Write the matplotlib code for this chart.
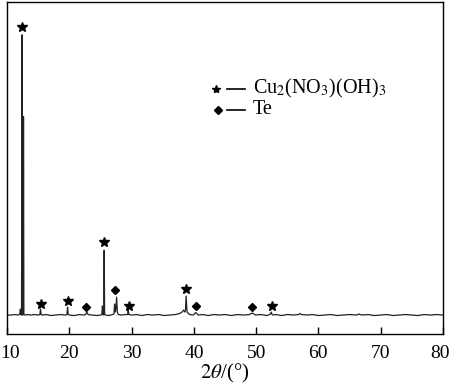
import matplotlib
matplotlib.use("Agg")
import matplotlib.pyplot as plt
from matplotlib.transforms import ScaledTranslation

plt.rcParams['font.family'] = ['Liberation Serif', 'DejaVu Serif']
plt.rcParams['mathtext.fontset'] = 'stix'

# XRD trace (2theta in degrees, intensity in arb. units)
two_theta = [10.0, 10.6, 11.2, 11.7, 12.0, 12.12, 12.2, 12.3, 12.4, 12.45, 12.5,
             12.58, 12.62, 12.68, 12.8, 13.2, 13.8, 14.4, 15.0, 15.25, 15.35, 15.45,
             15.6, 16.3, 17.0, 17.8, 18.6, 19.4, 19.6, 19.7, 19.8, 20.0, 20.8,
             21.6, 22.3, 22.6, 22.8, 23.0, 23.6, 24.4, 25.0, 25.2, 25.3, 25.4,
             25.5, 25.58, 25.66, 25.8, 26.4, 26.9, 27.15, 27.25, 27.35, 27.45,
             27.58, 27.7, 27.85, 28.3, 29.0, 29.35, 29.45, 29.55, 30.0, 30.8,
             31.6, 32.5, 33.4, 34.3, 35.2, 36.1, 37.0, 37.7, 38.1, 38.35, 38.55,
             38.65, 38.75, 38.9, 39.3, 39.9, 40.3, 40.7, 41.4, 42.3, 43.2, 44.1,
             45.0, 46.0, 47.0, 48.0, 48.9, 49.4, 49.9, 50.8, 51.7, 52.2, 52.45,
             52.55, 52.7, 53.2, 54.1, 55.0, 56.0, 56.8, 57.0, 57.3, 58.2, 59.1,
             60.0, 61.0, 62.0, 63.0, 64.0, 65.0, 66.2, 66.5, 67.0, 68.0, 69.0,
             70.0, 71.0, 72.0, 73.0, 74.0, 75.0, 76.0, 77.0, 78.0, 79.0, 80.0]
intensity = [19, 19, 19.5, 19, 19.5, 25, 19.5, 19, 300, 19, 19,
             19.5, 218, 19.5, 19, 19.5, 19, 19.5, 19, 19.5, 25, 19.5,
             19, 19.5, 18.5, 19, 19.5, 19, 19.5, 27, 19.5, 19, 18.5,
             19.5, 19, 19.5, 22, 19.5, 19, 18.5, 19, 19.5, 28, 19.5,
             19, 84, 19.5, 19, 18.5, 19.5, 20, 30, 22, 24,
             37, 22, 19.5, 19, 19.5, 19.5, 24, 19.5, 19, 19.5,
             18.5, 19.5, 19, 19.5, 18.5, 19, 19.5, 20.5, 22, 24, 22,
             24, 38, 22, 19.5, 19, 21.5, 19, 19.5, 18.5, 19.5, 19,
             19.5, 18.5, 19.5, 19, 19.5, 21, 19, 19.5, 18.5, 19.5, 22,
             19.5, 19, 19.5, 18.5, 19.5, 19, 19.5, 20.5, 19.5, 19, 19.5,
             18.5, 19, 19.5, 18.5, 19, 19.5, 19, 20, 19, 19.5, 18.5,
             19, 19.5, 18.5, 19, 19.5, 19, 18.5, 19.5, 19, 19.5, 19]

# phase markers
star_x = [12.4, 15.4, 19.7, 25.6, 29.5, 38.7, 52.5]
star_y = [308, 30, 33, 92, 28, 45, 28]
diamond_x = [22.7, 27.4, 40.3, 49.4]
diamond_y = [27, 44, 28, 27]

xticks = [10, 20, 30, 40, 50, 60, 70, 80]

fig = plt.figure(figsize=(4.5, 3.87), dpi=100)
ax = fig.add_axes([0.016, 0.137, 0.968, 0.858])

ax.plot(two_theta, intensity, color='#222222', lw=0.9)
ax.plot(star_x, star_y, ls='none', marker='*', ms=7, color='black')
ax.plot(diamond_x, diamond_y, ls='none', marker='D', ms=4.5, color='black')

# legend drawn by hand like the original
ax.plot([43.6], [246], marker='*', ms=6, color='black')
ax.plot([45.4, 48.2], [246, 246], color='black', lw=1.2)
ax.text(49.5, 246, 'Cu$_2$(NO$_3$)(OH)$_3$', fontsize=14.5, va='center')
ax.plot([43.8], [225], marker='D', ms=4, color='black')
ax.plot([45.4, 48.2], [225, 225], color='black', lw=1.2)
ax.text(49.5, 225, 'Te', fontsize=14.5, va='center')

ax.set_xlim(10, 80)
ax.set_ylim(0, 333)
ax.set_xticks(xticks)
ax.set_yticks([])
ax.tick_params(axis='x', direction='in', length=5, width=1, labelsize=14, pad=8)
ax.set_xlabel('$\\mathit{2\\theta}$/(\u00b0)', fontsize=15, labelpad=0)
for s in ax.spines.values():
    s.set_linewidth(1.0)

# nudge the end labels inward so they stay inside the picture
labels = ax.get_xticklabels()
labels[0].set_transform(labels[0].get_transform() + ScaledTranslation(3 / 100, 0, fig.dpi_scale_trans))
labels[-1].set_transform(labels[-1].get_transform() + ScaledTranslation(-3 / 100, 0, fig.dpi_scale_trans))

fig.savefig('out.png', dpi=100)
